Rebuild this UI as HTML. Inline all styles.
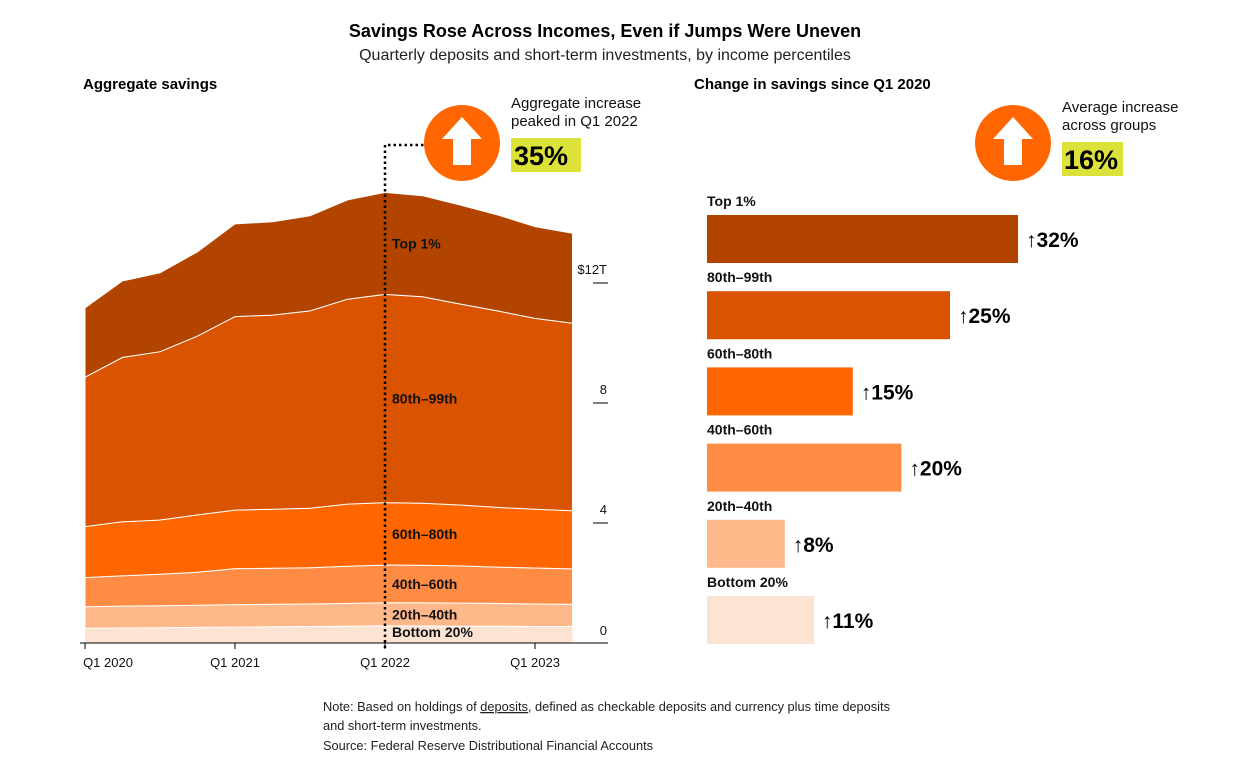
<!DOCTYPE html>
<html><head><meta charset="utf-8"><style>
body{margin:0;background:#fff;width:1243px;height:774px;overflow:hidden;font-family:"Liberation Sans",sans-serif;}
svg{display:block}
</style></head><body>
<svg width="1243" height="774" id="svg">
<text x="605" y="37" text-anchor="middle" font-size="18" font-weight="bold" fill="#000">Savings Rose Across Incomes, Even if Jumps Were Uneven</text>
<text x="605" y="60" text-anchor="middle" font-size="16" fill="#222">Quarterly deposits and short-term investments, by income percentiles</text>
<text x="83" y="89" font-size="15" font-weight="bold">Aggregate savings</text>
<text x="694" y="89" font-size="15" font-weight="bold">Change in savings since Q1 2020</text>
<g id="area"></g>
<g id="bars"></g>
<path d="M385 648 V145 H425" fill="none" stroke="#000" stroke-width="2.5" stroke-dasharray="2.5,3"/>
<g>
<circle cx="462" cy="143" r="38" fill="#ff6600"/>
<path d="M462 117 L482 139 L471 139 L471 165 L453 165 L453 139 L442 139 Z" fill="#fff"/>
<text x="511" y="108" font-size="15" fill="#111">Aggregate increase</text>
<text x="511" y="126" font-size="15" fill="#111">peaked in Q1 2022</text>
<rect x="511" y="138" width="70" height="34" fill="#dde23a"/>
<text x="514" y="165" font-size="27" font-weight="bold">35%</text>
</g>
<g>
<circle cx="1013" cy="143" r="38" fill="#ff6600"/>
<path d="M1013 117 L1033 139 L1022 139 L1022 165 L1004 165 L1004 139 L993 139 Z" fill="#fff"/>
<text x="1062" y="112" font-size="15" fill="#111">Average increase</text>
<text x="1062" y="130" font-size="15" fill="#111">across groups</text>
<rect x="1062" y="142" width="61" height="34" fill="#dde23a"/>
<text x="1064" y="169" font-size="27" font-weight="bold">16%</text>
</g>
<text x="323" y="711" font-size="12.8" fill="#222">Note: Based on holdings of <tspan text-decoration="underline">deposits</tspan>, defined as checkable deposits and currency plus time deposits</text>
<text x="323" y="730" font-size="12.8" fill="#222">and short-term investments.</text>
<text x="323" y="750" font-size="12.8" fill="#222">Source: Federal Reserve Distributional Financial Accounts</text>
</svg>
<script>
const groups=["Bottom 20%","20th–40th","40th–60th","60th–80th","80th–99th","Top 1%"];
const colors=["#fde3d2","#ffb88a","#ff8c45","#ff6600","#d95300","#b34400"];
const bottom20=[0.49,0.50,0.51,0.52,0.53,0.54,0.55,0.56,0.57,0.57,0.56,0.56,0.55,0.55];
const p20to40=[0.72,0.73,0.73,0.74,0.75,0.75,0.75,0.76,0.77,0.77,0.77,0.76,0.75,0.74];
const p40to60=[0.97,1.01,1.05,1.10,1.20,1.20,1.21,1.24,1.26,1.25,1.24,1.21,1.20,1.18];
const p60to80=[1.70,1.80,1.81,1.91,1.95,1.97,1.98,2.07,2.08,2.07,2.03,1.99,1.96,1.94];
const p80to99=[4.98,5.48,5.61,5.96,6.45,6.47,6.58,6.83,6.94,6.88,6.70,6.55,6.36,6.25];
const top1=[2.31,2.55,2.63,2.81,3.09,3.11,3.17,3.31,3.40,3.37,3.30,3.20,3.06,3.00];
const yTicks=[0,4,8,12];
const yTickLabels=["0","4","8","$12T"];
const xTickIdx=[0,4,8,12];
const xTickLabels=["Q1 2020","Q1 2021","Q1 2022","Q1 2023"];
const changePct=[32,25,15,20,8,11];
const barGroups=["Top 1%","80th–99th","60th–80th","40th–60th","20th–40th","Bottom 20%"];
const barColors=["#b34400","#d95300","#ff6600","#ff8c45","#ffb88a","#fde3d2"];

const NS="http://www.w3.org/2000/svg";
function mk(tag,attrs,parent,txt){const e=document.createElementNS(NS,tag);for(const k in attrs)e.setAttribute(k,attrs[k]);if(txt!==undefined)e.textContent=txt;parent.appendChild(e);return e;}
const xS=i=>85+i*37.5;
const yS=v=>643-v*30;
const area=document.getElementById('area');
const series=[bottom20,p20to40,p40to60,p60to80,p80to99,top1];
let cum=bottom20.map(()=>0);
const labelY=[];
series.forEach((s,gi)=>{
  const lo=cum.slice();const hi=cum.map((c,i)=>c+s[i]);
  let d="M"+hi.map((v,i)=>xS(i)+" "+yS(v)).join(" L");
  for(let i=lo.length-1;i>=0;i--)d+=" L"+xS(i)+" "+yS(lo[i]);
  d+="Z";
  const p=mk('path',{d:d,fill:colors[gi],stroke:gi?"#fff":"none","stroke-width":1},area);
  
  
  labelY.push((yS(lo[8])+yS(hi[8]))/2);
  cum=hi;
});
series.forEach((s,gi)=>{
  let y=labelY[gi]+5;
  if(gi==0)y=yS(0)-6;
  const t=mk('text',{x:392,y:y,"font-size":14,"font-weight":"bold",fill:"#111"},area,groups[gi]);
  
  
});
const ax=mk('line',{x1:80,x2:608,y1:643,y2:643,stroke:"#000","stroke-width":1},area);


xTickIdx.forEach((qi,k)=>{
  const l=mk('line',{x1:xS(qi),x2:xS(qi),y1:643,y2:649,stroke:"#000"},area);
  
  
  const t=mk('text',{x:xS(qi)+(k==0?23:0),y:667,"font-size":13,"text-anchor":"middle",fill:"#111"},area,xTickLabels[k]);
  
  
});
yTicks.forEach((v,k)=>{
  if(v>0){const l=mk('line',{x1:593,x2:608,y1:yS(v),y2:yS(v),stroke:"#000"},area);
  
  }
  const t=mk('text',{x:607,y:v>0?yS(v)-9:635,"font-size":13,"text-anchor":"end",fill:"#111"},area,yTickLabels[k]);
  
  
});
const bars=document.getElementById('bars');
const bx=v=>707+v*9.72;
changePct.forEach((v,i)=>{
  const y0=215+i*76.2;
  const t=mk('text',{x:707,y:y0-9,"font-size":14,"font-weight":"bold",fill:"#111"},bars,barGroups[i]);
  
  
  const r=mk('rect',{x:707,y:y0,width:bx(v)-707,height:48,fill:barColors[i]},bars);
  
  
  const vt=mk('text',{x:bx(v)+8,y:y0+32,"font-size":21,"font-weight":"bold",fill:"#000"},bars,"↑"+v+"%");
  
  
});
</script>
</body></html>
